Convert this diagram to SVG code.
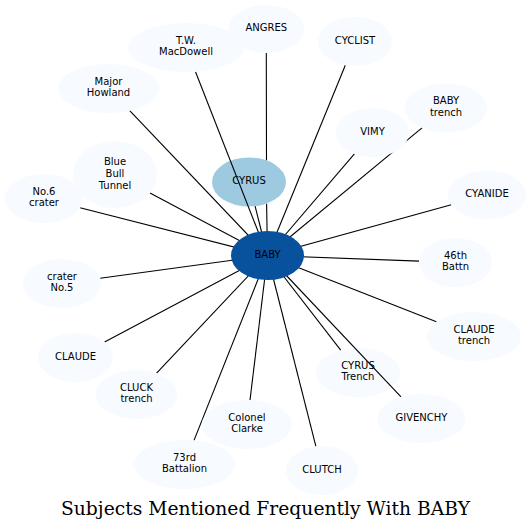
<svg xmlns="http://www.w3.org/2000/svg" width="531" height="530" viewBox="0 0 531 530">
<style>
.n{fill:#f7fbff}
.t{font-family:"DejaVu Sans",sans-serif;font-size:10px;fill:#000;text-anchor:middle}
.e{stroke:#000;stroke-width:1.1;fill:none}
.title{font-family:"DejaVu Serif",serif;font-size:19px;fill:#000;text-anchor:middle}
</style>
<rect width="531" height="530" fill="#fff"/>
<g id="node-cyrus-trench"><ellipse class="n" cx="358" cy="372.5" rx="42" ry="24.5"/><text class="t" x="358" y="368.6">CYRUS</text><text class="t" x="358" y="380.4">Trench</text></g>
<g id="node-cyrus"><ellipse cx="249" cy="182" rx="37" ry="24.5" fill="#9ecae1"/><text class="t" x="249" y="184.2">CYRUS</text></g>
<g id="connectors">
<line class="e" x1="267.5" y1="255.5" x2="195.5" y2="71.7"/>
<line class="e" x1="267.5" y1="255.5" x2="129.7" y2="110.7"/>
<line class="e" x1="267.5" y1="255.5" x2="150" y2="193.1"/>
<line class="e" x1="267.5" y1="255.5" x2="80.1" y2="207.7"/>
<path class="e" d="M266.3,53 L266.5,160.3 M266.6,203.7 L267.5,255.5"/>
<line class="e" x1="267.5" y1="255.5" x2="345.3" y2="65.2"/>
<line class="e" x1="267.5" y1="255.5" x2="354.4" y2="153.8"/>
<line class="e" x1="267.5" y1="255.5" x2="422" y2="127.9"/>
<line class="e" x1="267.5" y1="255.5" x2="451.3" y2="204.8"/>
<line class="e" x1="267.5" y1="255.5" x2="419.1" y2="261.1"/>
<line class="e" x1="267.5" y1="255.5" x2="436.4" y2="321.8"/>
<line class="e" x1="267.5" y1="255.5" x2="340.7" y2="350.2"/>
<line class="e" x1="267.5" y1="255.5" x2="401" y2="396.8"/>
<line class="e" x1="267.5" y1="255.5" x2="315.9" y2="446.4"/>
<line class="e" x1="267.5" y1="255.5" x2="250" y2="400.1"/>
<line class="e" x1="267.5" y1="255.5" x2="194" y2="440.4"/>
<line class="e" x1="267.5" y1="255.5" x2="156.6" y2="373.2"/>
<line class="e" x1="267.5" y1="255.5" x2="104.6" y2="342"/>
<line class="e" x1="267.5" y1="255.5" x2="100.1" y2="278.3"/>
<line class="e" x1="267.5" y1="255.5" x2="255.1" y2="206.2"/>
</g>
<g id="node-tw-macdowell"><ellipse class="n" cx="186" cy="47.5" rx="58" ry="24.5"/><text class="t" x="186" y="43.6">T.W.</text><text class="t" x="186" y="55.4">MacDowell</text></g>
<g id="node-major-howland"><ellipse class="n" cx="108.5" cy="88.5" rx="50.5" ry="24.5"/><text class="t" x="108.5" y="84.6">Major</text><text class="t" x="108.5" y="96.4">Howland</text></g>
<g id="node-blue-bull-tunnel"><ellipse class="n" cx="115" cy="174.5" rx="42" ry="33.5"/><text class="t" x="115" y="165.4">Blue</text><text class="t" x="115" y="177">Bull</text><text class="t" x="115" y="188.6">Tunnel</text></g>
<g id="node-no6-crater"><ellipse class="n" cx="44" cy="198.5" rx="39" ry="24.5"/><text class="t" x="44" y="194.6">No.6</text><text class="t" x="44" y="206.4">crater</text></g>
<g id="node-angres"><ellipse class="n" cx="266.3" cy="29" rx="38" ry="24"/><text class="t" x="266.3" y="31.2">ANGRES</text></g>
<g id="node-cyclist"><ellipse class="n" cx="355" cy="41.5" rx="37" ry="24.5"/><text class="t" x="355" y="43.7">CYCLIST</text></g>
<g id="node-vimy"><ellipse class="n" cx="372.5" cy="132.5" rx="36.5" ry="24.5"/><text class="t" x="372.5" y="134.7">VIMY</text></g>
<g id="node-baby-trench"><ellipse class="n" cx="446" cy="108" rx="41" ry="24.5"/><text class="t" x="446" y="104.1">BABY</text><text class="t" x="446" y="115.9">trench</text></g>
<g id="node-cyanide"><ellipse class="n" cx="487" cy="195" rx="39" ry="24.5"/><text class="t" x="487" y="197.2">CYANIDE</text></g>
<g id="node-46th-battn"><ellipse class="n" cx="455.5" cy="262.5" rx="36.5" ry="24.5"/><text class="t" x="455.5" y="258.6">46th</text><text class="t" x="455.5" y="270.4">Battn</text></g>
<g id="node-claude-trench"><ellipse class="n" cx="474" cy="336.5" rx="47" ry="24.5"/><text class="t" x="474" y="332.6">CLAUDE</text><text class="t" x="474" y="344.4">trench</text></g>
<g id="node-givenchy"><ellipse class="n" cx="421.5" cy="418.5" rx="44" ry="24.5"/><text class="t" x="421.5" y="420.7">GIVENCHY</text></g>
<g id="node-clutch"><ellipse class="n" cx="322" cy="470.5" rx="36" ry="24.5"/><text class="t" x="322" y="472.7">CLUTCH</text></g>
<g id="node-colonel-clarke"><ellipse class="n" cx="247" cy="424.5" rx="45" ry="24.5"/><text class="t" x="247" y="420.6">Colonel</text><text class="t" x="247" y="432.4">Clarke</text></g>
<g id="node-73rd-battalion"><ellipse class="n" cx="184.5" cy="464.5" rx="50.5" ry="24.5"/><text class="t" x="184.5" y="460.6">73rd</text><text class="t" x="184.5" y="472.4">Battalion</text></g>
<g id="node-cluck-trench"><ellipse class="n" cx="136.5" cy="394.5" rx="41" ry="24.5"/><text class="t" x="136.5" y="390.6">CLUCK</text><text class="t" x="136.5" y="402.4">trench</text></g>
<g id="node-claude"><ellipse class="n" cx="75.5" cy="357.5" rx="37.5" ry="24.5"/><text class="t" x="75.5" y="359.7">CLAUDE</text></g>
<g id="node-crater-no5"><ellipse class="n" cx="62" cy="283.5" rx="39" ry="24.5"/><text class="t" x="62" y="279.6">crater</text><text class="t" x="62" y="291.4">No.5</text></g>
<g id="node-baby"><ellipse cx="267.5" cy="255.5" rx="36.5" ry="24.5" fill="#08519c"/><text class="t" x="267.5" y="257.7">BABY</text></g>
<text class="title" x="265.5" y="515" textLength="409" lengthAdjust="spacingAndGlyphs">Subjects Mentioned Frequently With BABY</text>
</svg>
